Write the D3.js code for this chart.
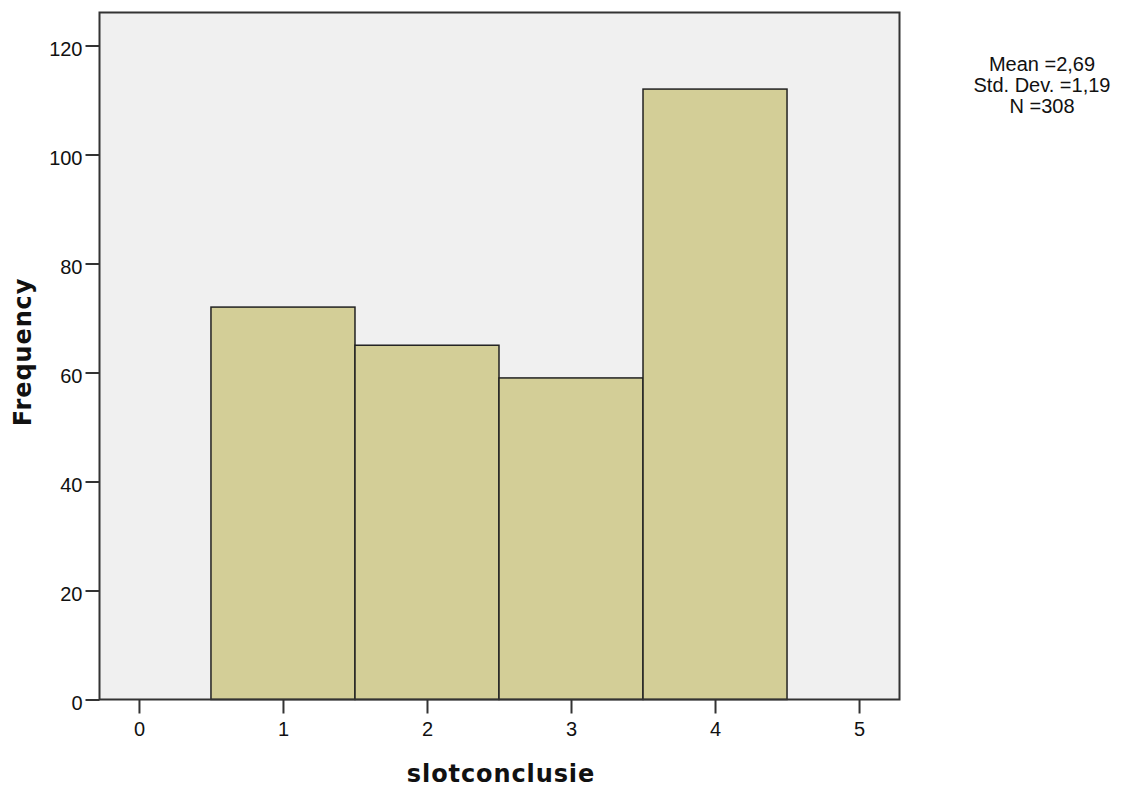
<!DOCTYPE html>
<html>
<head>
<meta charset="utf-8">
<script src="https://cdn.jsdelivr.net/npm/d3@7"></script>
<style>
  html, body { margin: 0; padding: 0; background: #fff; }
  svg { display: block; }
</style>
</head>
<body>
<svg id="chart" width="1124" height="789"></svg>
<script>
// ---- data ----
const binCenters = [1, 2, 3, 4];
const frequencies = [72, 65, 59, 112];
const binWidth = 1;
const xTicks = [0, 1, 2, 3, 4, 5];
const yTicks = [0, 20, 40, 60, 80, 100, 120];
const xLabel = "slotconclusie";
const yLabel = "Frequency";
const statsLines = ["Mean =2,69", "Std. Dev. =1,19", "N =308"];

// ---- layout ----
const svg = d3.select("#chart");
const plot = { left: 99.5, right: 899.5, top: 12.5, bottom: 699.5 };

const x = d3.scaleLinear().domain([-0.274, 5.281]).range([plot.left, plot.right]);
const y = d3.scaleLinear().domain([0, 126.05]).range([plot.bottom, plot.top]);

const labelFont = "'Liberation Sans', Arial, sans-serif";
const titleFont = "'DejaVu Sans', Verdana, sans-serif";

// background
svg.append("rect")
  .attr("x", plot.left).attr("y", plot.top)
  .attr("width", plot.right - plot.left).attr("height", plot.bottom - plot.top)
  .attr("fill", "#f0f0f0");

// bars
svg.append("g").selectAll("rect")
  .data(binCenters.map((c, i) => ({ c, v: frequencies[i] })))
  .join("rect")
  .attr("x", d => x(d.c - binWidth / 2))
  .attr("y", d => y(d.v))
  .attr("width", d => x(d.c + binWidth / 2) - x(d.c - binWidth / 2))
  .attr("height", d => y(0) - y(d.v))
  .attr("fill", "#d3ce97")
  .attr("stroke", "#222")
  .attr("stroke-width", 1.5);

// y axis
const yAxis = svg.append("g")
  .attr("transform", `translate(${plot.left},0)`)
  .call(d3.axisLeft(y).tickValues(yTicks).tickSize(14).tickSizeOuter(0).tickPadding(3).tickFormat(d3.format("d")));
yAxis.select(".domain").remove();
yAxis.selectAll(".tick line").attr("stroke", "#333").attr("stroke-width", 2);
yAxis.selectAll(".tick text")
  .attr("font-family", labelFont).attr("font-size", 20).attr("fill", "#111")
  .attr("dy", "0.5em");

// x axis
const xAxis = svg.append("g")
  .attr("transform", `translate(0,${plot.bottom})`)
  .call(d3.axisBottom(x).tickValues(xTicks).tickSize(14).tickSizeOuter(0).tickPadding(8).tickFormat(d3.format("d")));
xAxis.select(".domain").remove();
xAxis.selectAll(".tick line").attr("stroke", "#333").attr("stroke-width", 2);
xAxis.selectAll(".tick text")
  .attr("font-family", labelFont).attr("font-size", 20).attr("fill", "#111");

// frame
svg.append("rect")
  .attr("x", plot.left).attr("y", plot.top)
  .attr("width", plot.right - plot.left).attr("height", plot.bottom - plot.top)
  .attr("fill", "none").attr("stroke", "#333").attr("stroke-width", 2);

// axis titles
svg.append("text")
  .attr("x", 501).attr("y", 782)
  .attr("text-anchor", "middle")
  .attr("font-family", titleFont).attr("font-weight", "bold").attr("font-size", 24)
  .attr("letter-spacing", 0.9)
  .attr("fill", "#111")
  .text(xLabel);

svg.append("text")
  .attr("transform", "translate(31,352) rotate(-90)")
  .attr("text-anchor", "middle")
  .attr("font-family", titleFont).attr("font-weight", "bold").attr("font-size", 24)
  .attr("letter-spacing", 0.9)
  .attr("fill", "#111")
  .text(yLabel);

// stats box
svg.append("g").selectAll("text")
  .data(statsLines)
  .join("text")
  .attr("x", 1042)
  .attr("y", (d, i) => 71 + i * 21)
  .attr("text-anchor", "middle")
  .attr("font-family", labelFont).attr("font-size", 20)
  .attr("fill", "#111")
  .text(d => d);
</script>
</body>
</html>
